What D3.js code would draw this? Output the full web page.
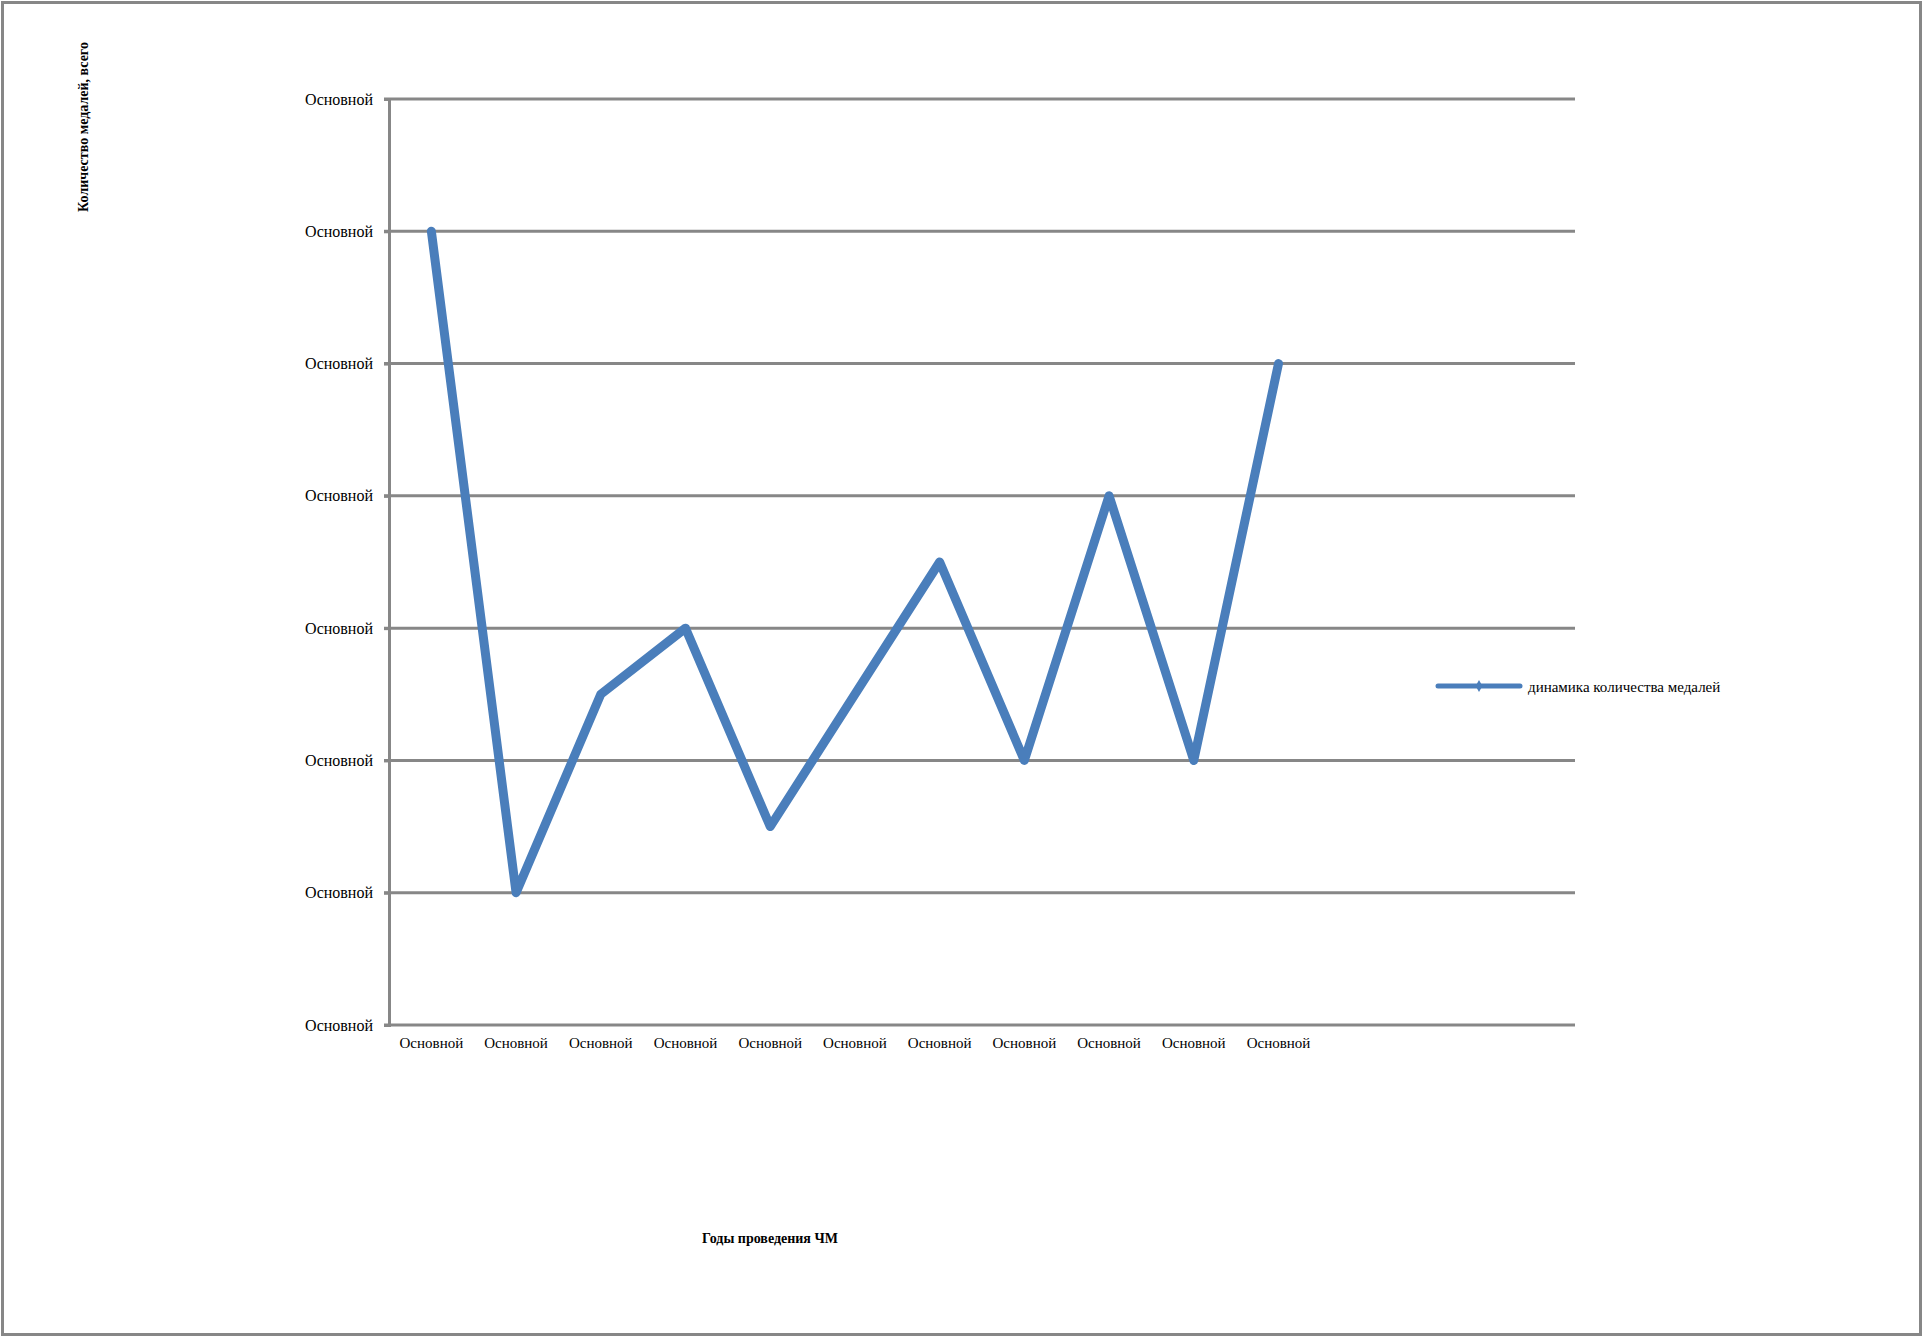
<!DOCTYPE html>
<html><head><meta charset="utf-8">
<script src="https://cdn.jsdelivr.net/npm/d3@7"></script>
<style>
html,body{margin:0;padding:0;background:#fff;}
svg{display:block;}
</style></head>
<body>
<script>
// ---- data ----
const categories = ["Основной","Основной","Основной","Основной","Основной","Основной","Основной","Основной","Основной","Основной","Основной"];
const medals = [6, 1, 2.5, 3, 1.5, 2.5, 3.5, 2, 4, 2, 5];
const yTickValues = [0, 1, 2, 3, 4, 5, 6, 7];
const yTickLabels = ["Основной","Основной","Основной","Основной","Основной","Основной","Основной","Основной"];
const seriesName = "динамика количества медалей";
const yTitle = "Количество медалей, всего";
const xTitle = "Годы проведения ЧМ";

// ---- layout ----
const W = 1925, H = 1337;
const plot = {left: 389, right: 1575, top: 99, bottom: 1025};
const slotCount = 14;
const grey = "#878787", blue = "#4a7ebb";
const serif = "'Liberation Serif','Times New Roman',serif";

const svg = d3.select("body").append("svg").attr("width", W).attr("height", H);

svg.append("rect").attr("x", 2.5).attr("y", 2.5).attr("width", W - 7).attr("height", H - 5)
  .attr("fill", "#fff").attr("stroke", grey).attr("stroke-width", 3);

const x = d3.scaleBand().domain(d3.range(slotCount)).range([plot.left, plot.right]).padding(0);
const y = d3.scaleLinear().domain([0, 7]).range([plot.bottom, plot.top]);

// gridlines
svg.append("g").selectAll("line").data(yTickValues).join("line")
  .attr("x1", plot.left - 5).attr("x2", plot.right)
  .attr("y1", d => y(d)).attr("y2", d => y(d))
  .attr("stroke", grey).attr("stroke-width", 3);

// y axis
const yAxis = svg.append("g").attr("transform", `translate(${plot.left},0)`)
  .call(d3.axisLeft(y).tickValues(yTickValues).tickFormat((d, i) => yTickLabels[i]).tickSize(5).tickPadding(11));
yAxis.select(".domain").attr("stroke", grey).attr("stroke-width", 3);
yAxis.selectAll(".tick line").attr("stroke", grey).attr("stroke-width", 3);
yAxis.selectAll("text").attr("font-family", serif).attr("font-size", 16).attr("fill", "#000");

// x axis
const xAxis = svg.append("g").attr("transform", `translate(0,${plot.bottom})`)
  .call(d3.axisBottom(x).tickValues(d3.range(categories.length)).tickFormat(i => categories[i]).tickSize(0).tickPadding(12));
xAxis.select(".domain").remove();
xAxis.selectAll("text").attr("font-family", serif).attr("font-size", 15).attr("fill", "#000");

// line
const line = d3.line().x((d, i) => x(i) + x.bandwidth() / 2).y(d => y(d));
svg.append("path").datum(medals).attr("d", line)
  .attr("fill", "none").attr("stroke", blue).attr("stroke-width", 9)
  .attr("stroke-linejoin", "round").attr("stroke-linecap", "round");

// axis titles
svg.append("text").attr("transform", "translate(88,127) rotate(-90)")
  .attr("text-anchor", "middle").attr("font-family", serif).attr("font-weight", "bold")
  .attr("font-size", 14).text(yTitle);
svg.append("text").attr("x", 770).attr("y", 1243)
  .attr("text-anchor", "middle").attr("font-family", serif).attr("font-weight", "bold")
  .attr("font-size", 14).text(xTitle);

// legend
const lg = svg.append("g").attr("transform", "translate(1438,686)");
lg.append("line").attr("x1", 0).attr("x2", 82).attr("y1", 0).attr("y2", 0)
  .attr("stroke", blue).attr("stroke-width", 5).attr("stroke-linecap", "round");
lg.append("path").attr("d", d3.symbol(d3.symbolDiamond, 40)()).attr("transform", "translate(41,0)").attr("fill", blue);
lg.append("text").attr("x", 90).attr("y", 6).attr("font-family", serif).attr("font-size", 15).text(seriesName);
</script>
</body></html>
